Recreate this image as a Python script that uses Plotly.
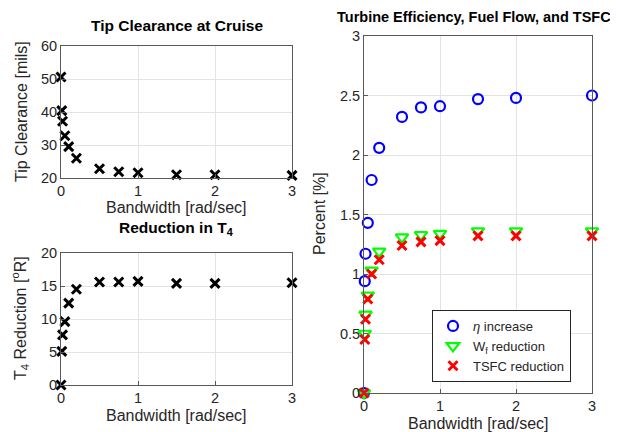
import plotly.graph_objects as go

# Data
bandwidth = [0, 0.01, 0.02, 0.05, 0.1, 0.2, 0.5, 0.75, 1, 1.5, 2, 3]
tip_clearance = [50.6, 40.4, 37.2, 32.8, 29.5, 26.0, 22.8, 21.9, 21.6, 21.0, 21.0, 20.8]
t4_reduction = [0, 5.1, 7.6, 9.6, 12.4, 14.5, 15.6, 15.6, 15.7, 15.4, 15.4, 15.5]
eta_increase = [0, 0.94, 1.17, 1.43, 1.79, 2.06, 2.32, 2.40, 2.41, 2.47, 2.48, 2.50]
wf_reduction = [0, 0.50, 0.66, 0.82, 1.03, 1.19, 1.31, 1.33, 1.34, 1.36, 1.36, 1.36]
tsfc_reduction = [0, 0.45, 0.62, 0.79, 1.00, 1.12, 1.24, 1.27, 1.28, 1.32, 1.32, 1.32]

x_ticks = [0, 1, 2, 3]
tip_ticks = [20, 30, 40, 50, 60]
t4_ticks = [0, 5, 10, 15, 20]
pct_ticks = [0, 0.5, 1, 1.5, 2, 2.5, 3]
pct_labels = ["0", "0.5", "1", "1.5", "2", "2.5", "3"]

W, H = 618, 432
FONT = "Liberation Sans, Arial, Helvetica, sans-serif"
TXT = "#262626"
AX = "#595959"
GRID = "#e3e3e3"


def px_x(p):
    return p / W


def px_y(p):
    return 1 - p / H


black_x = dict(symbol="x-thin-open", size=9, color="black", line=dict(color="black", width=3))

fig = go.Figure()
fig.add_trace(go.Scatter(x=bandwidth, y=tip_clearance, mode="markers", marker=black_x,
                         xaxis="x", yaxis="y", showlegend=False, cliponaxis=False))
fig.add_trace(go.Scatter(x=bandwidth, y=t4_reduction, mode="markers", marker=black_x,
                         xaxis="x2", yaxis="y2", showlegend=False, cliponaxis=False))
fig.add_trace(go.Scatter(x=bandwidth, y=eta_increase, mode="markers", name="<i>η</i> increase",
                         marker=dict(symbol="circle-open", size=10, color="#0000ff",
                                     line=dict(color="#0000ff", width=2.2)),
                         xaxis="x3", yaxis="y3", cliponaxis=False))
fig.add_trace(go.Scatter(x=bandwidth, y=wf_reduction, mode="markers", name="W<sub>f</sub> reduction",
                         marker=dict(symbol="triangle-down-open", size=11, color="#00ff00",
                                     line=dict(color="#00ff00", width=2.2)),
                         xaxis="x3", yaxis="y3", cliponaxis=False))
fig.add_trace(go.Scatter(x=bandwidth, y=tsfc_reduction, mode="markers", name="TSFC reduction",
                         marker=dict(symbol="x-thin-open", size=9, color="#ff0000",
                                     line=dict(color="#ff0000", width=3)),
                         xaxis="x3", yaxis="y3", cliponaxis=False))

# automargin off so the axes boxes sit exactly where the domains put them
axis_common = dict(
    showline=True, mirror=True, linecolor=AX, linewidth=1,
    showgrid=True, gridcolor=GRID, gridwidth=1, zeroline=False,
    ticks="inside", ticklen=4, tickcolor=AX, automargin=False,
    tickfont=dict(family=FONT, size=14.5, color=TXT),
)

fig.update_layout(
    width=W, height=H,
    margin=dict(l=0, r=0, t=0, b=0, autoexpand=False),
    paper_bgcolor="white", plot_bgcolor="white",
    font=dict(family=FONT, size=13, color=TXT),
    xaxis=dict(axis_common, domain=[px_x(53), px_x(284)], range=[0, 3], tickvals=x_ticks,
               anchor="y"),
    yaxis=dict(axis_common, domain=[px_y(170), px_y(38)], range=[20, 60], tickvals=tip_ticks,
               anchor="x"),
    xaxis2=dict(axis_common, domain=[px_x(53), px_x(284)], range=[0, 3], tickvals=x_ticks,
                anchor="y2"),
    yaxis2=dict(axis_common, domain=[px_y(377), px_y(245)], range=[0, 20], tickvals=t4_ticks,
                anchor="x2"),
    xaxis3=dict(axis_common, domain=[px_x(356), px_x(584)], range=[0, 3], tickvals=x_ticks,
                anchor="y3"),
    yaxis3=dict(axis_common, domain=[px_y(385), px_y(28)], range=[0, 3], tickvals=pct_ticks,
                ticktext=pct_labels, anchor="x3"),
    legend=dict(
        x=px_x(424), y=px_y(302), xanchor="left", yanchor="top",
        bgcolor="white", bordercolor="#262626", borderwidth=1,
        font=dict(family=FONT, size=13, color=TXT),
        itemwidth=30, tracegroupgap=0,
    ),
)


def label(text, x, y, bold=False, angle=0, size=16):
    fig.add_annotation(
        text=f"<b>{text}</b>" if bold else text,
        x=px_x(x), y=px_y(y), xref="paper", yref="paper",
        xanchor="center", yanchor="middle", showarrow=False, textangle=angle,
        font=dict(family=FONT, size=size, color="black" if bold else TXT),
    )


label("Tip Clearance at Cruise", 169, 18, bold=True, size=15.5)
label("Reduction in T<sub>4</sub>", 168, 220, bold=True, size=15.5)
label("Turbine Efficiency, Fuel Flow, and TSFC", 466, 9, bold=True, size=14.5)
label("Bandwidth [rad/sec]", 168, 199)
label("Bandwidth [rad/sec]", 168, 407)
label("Bandwidth [rad/sec]", 470, 415)
label("Tip Clearance [mils]", 14, 104, angle=-90)
label("T<sub>4</sub> Reduction [<sup>o</sup>R]", 12, 310, angle=-90)
label("Percent [%]", 311, 206, angle=-90)

fig.write_html("out.html")
